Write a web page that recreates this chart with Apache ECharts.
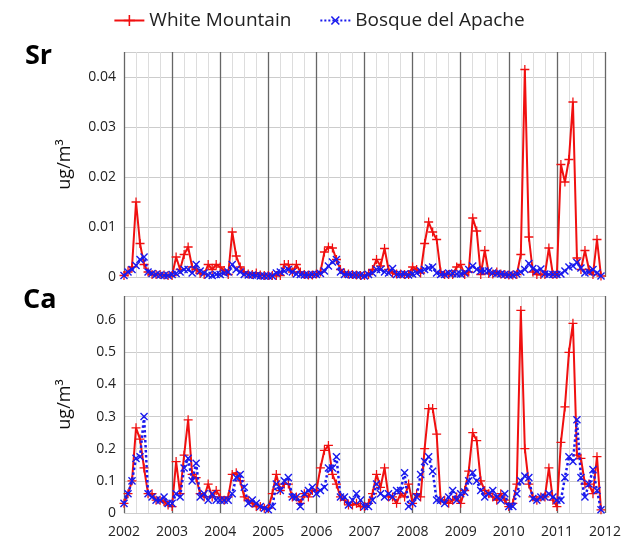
<!DOCTYPE html>
<html><head><meta charset="utf-8">
<script src="https://cdn.jsdelivr.net/npm/echarts@6/dist/echarts.min.js"></script>
<style>html,body{margin:0;background:#fff}#c{width:638px;height:555px}</style>
</head><body><div id="c"></div>
<script>
const startYear = 2002;
const srWhite = [0.0003,0.001,0.002,0.015,0.0067,0.0025,0.001,0.0005,0.0005,0.0005,0.0004,0.0003,
0.0003,0.004,0.0015,0.0045,0.006,0.002,0.0015,0.0007,0.0005,0.0025,0.0015,0.0025,
0.002,0.0013,0.0005,0.009,0.0042,0.002,0.001,0.0006,0.0005,0.0008,0.0004,0.0003,
0.0003,0.0003,0.0003,0.0003,0.0025,0.0025,0.001,0.0025,0.001,0.0005,0.0004,0.0004,
0.0006,0.001,0.005,0.006,0.0058,0.0035,0.0015,0.0008,0.0006,0.0005,0.0004,0.0003,
0.0003,0.0005,0.0015,0.0035,0.0022,0.0057,0.0015,0.0008,0.0006,0.0006,0.0005,0.0005,
0.002,0.0015,0.0008,0.0067,0.011,0.009,0.0075,0.001,0.0005,0.0005,0.0005,0.002,
0.0025,0.0005,0.001,0.0118,0.0092,0.0005,0.0053,0.0007,0.0006,0.001,0.0006,0.0005,
0.0004,0.0004,0.0005,0.0045,0.0415,0.008,0.001,0.0005,0.0005,0.0005,0.0058,0.0005,
0.0005,0.0225,0.019,0.0235,0.035,0.0038,0.0015,0.0053,0.0015,0.0005,0.0075,0.0002];
const srBosque = [0.0003,0.001,0.0015,0.0023,0.0035,0.004,0.001,0.0007,0.0005,0.0004,0.0003,0.0003,
0.0005,0.0007,0.001,0.0015,0.0015,0.0008,0.0025,0.0012,0.0008,0.0004,0.0003,0.0005,
0.0005,0.0008,0.001,0.0025,0.0015,0.001,0.0005,0.0004,0.0004,0.0003,0.0002,0.0002,
0.0002,0.0002,0.0008,0.001,0.0012,0.0015,0.001,0.0006,0.0005,0.0004,0.0004,0.0005,
0.0005,0.0007,0.0012,0.0022,0.003,0.0035,0.001,0.0005,0.0005,0.0004,0.0004,0.0004,
0.0002,0.0005,0.0008,0.0015,0.0015,0.001,0.0008,0.0017,0.0005,0.0005,0.0006,0.0004,
0.0006,0.0008,0.0012,0.0015,0.0018,0.002,0.0008,0.0005,0.0005,0.0008,0.0007,0.0006,
0.0006,0.0008,0.0015,0.0022,0.0015,0.0012,0.0012,0.0012,0.0008,0.0007,0.0006,0.0005,
0.0004,0.0004,0.0006,0.001,0.0015,0.0027,0.0017,0.0012,0.0016,0.0006,0.0005,0.0005,
0.0005,0.0006,0.0012,0.002,0.0022,0.0029,0.0018,0.0008,0.001,0.0015,0.0008,0.0002];
const caWhite = [0.03,0.06,0.1,0.265,0.23,0.14,0.06,0.06,0.04,0.04,0.035,0.025,
0.02,0.16,0.06,0.18,0.29,0.12,0.11,0.06,0.05,0.09,0.05,0.07,
0.05,0.04,0.05,0.12,0.125,0.1,0.05,0.04,0.03,0.02,0.02,0.015,
0.015,0.06,0.12,0.07,0.09,0.09,0.05,0.05,0.03,0.06,0.05,0.07,
0.07,0.14,0.195,0.21,0.12,0.09,0.05,0.04,0.025,0.025,0.03,0.02,
0.02,0.03,0.06,0.12,0.08,0.14,0.05,0.05,0.03,0.06,0.05,0.09,
0.03,0.06,0.05,0.2,0.325,0.325,0.245,0.04,0.04,0.03,0.04,0.05,
0.03,0.07,0.13,0.25,0.225,0.1,0.07,0.06,0.05,0.04,0.06,0.04,
0.02,0.03,0.09,0.63,0.2,0.09,0.05,0.04,0.05,0.05,0.14,0.04,
0.02,0.22,0.33,0.5,0.59,0.18,0.17,0.09,0.09,0.06,0.175,0.01];
const caBosque = [0.03,0.06,0.1,0.17,0.175,0.3,0.06,0.05,0.04,0.04,0.05,0.03,
0.03,0.06,0.05,0.14,0.17,0.1,0.155,0.05,0.06,0.04,0.06,0.04,
0.04,0.04,0.04,0.06,0.11,0.12,0.08,0.03,0.04,0.03,0.02,0.015,
0.01,0.02,0.09,0.07,0.1,0.11,0.05,0.05,0.02,0.06,0.07,0.08,
0.06,0.07,0.08,0.14,0.14,0.175,0.05,0.05,0.025,0.04,0.06,0.04,
0.02,0.02,0.04,0.09,0.06,0.05,0.06,0.05,0.07,0.07,0.125,0.02,
0.03,0.05,0.12,0.16,0.175,0.13,0.04,0.04,0.03,0.05,0.07,0.04,
0.06,0.065,0.1,0.125,0.1,0.07,0.05,0.06,0.07,0.05,0.04,0.06,
0.02,0.02,0.06,0.1,0.115,0.11,0.045,0.04,0.05,0.05,0.06,0.05,
0.04,0.04,0.11,0.175,0.16,0.29,0.11,0.05,0.09,0.135,0.07,0.01];

const pts = arr => arr.map((v,i)=>[startYear + i/12, v]);
const plus = 'path://M-1,-0.14H1V0.14H-1Z M-0.14,-1H0.14V1H-0.14Z';
const font = 'Open Sans, Noto Sans, sans-serif';
const xAxisBase = (idx, showLabel) => ({
  type:'value', gridIndex: idx, min:2002, max:2012, interval:1, minorTick:{show:false,splitNumber:4},
  axisLine:{show:false}, axisTick:{show:false},
  axisLabel:{show:showLabel, fontSize:14, color:'#222', fontFamily:font, margin:12, formatter:v=>String(Math.round(v))},
  splitLine:{show:true, lineStyle:{color:'#666', width:1.3}},
  minorSplitLine:{show:true, lineStyle:{color:'#ddd', width:1}}
});
const yAxisBase = (idx, max, itv, dec) => ({
  type:'value', gridIndex: idx, min:0, max:max, interval:itv,
  name:'ug/m³', nameLocation:'middle', nameGap:50, nameTextStyle:{fontSize:18, color:'#111', fontFamily:font},
  axisLine:{show:false}, axisTick:{show:false},
  axisLabel:{fontSize:14, color:'#222', fontFamily:font, showMaxLabel:false, formatter:v=>v===0?'0':v.toFixed(dec)},
  splitLine:{lineStyle:{color:'#ccc', width:1}}
});
const red = (i,d) => ({name:'White Mountain', type:'line', xAxisIndex:i, yAxisIndex:i, data:pts(d),
  symbol:plus, symbolSize:9, itemStyle:{color:'#f01010'}, lineStyle:{color:'#f01010', width:2}, z:2});
const blue = (i,d) => ({name:'Bosque del Apache', type:'line', xAxisIndex:i, yAxisIndex:i, data:pts(d),
  symbol:plus, symbolSize:10, symbolRotate:45, itemStyle:{color:'#1a1aee'}, lineStyle:{color:'#1a1aee', width:2.5, type:'dotted'}, z:3});

const chart = echarts.init(document.getElementById('c'));
chart.setOption({
  animation:false,
  legend:{top:6, left:'center', itemGap:28, itemWidth:30, textStyle:{fontSize:19, color:'#222', fontFamily:font},
    data:['White Mountain','Bosque del Apache']},
  title:[{text:'Sr', left:20, top:38, textStyle:{fontSize:27, fontWeight:'bold', color:'#000', fontFamily:font}},
         {text:'Ca', left:18, top:282, textStyle:{fontSize:27, fontWeight:'bold', color:'#000', fontFamily:font}}],
  grid:[{left:124, right:33, top:52, height:225},{left:124, right:33, top:296, height:217}],
  xAxis:[xAxisBase(0,false), xAxisBase(1,true)],
  yAxis:[yAxisBase(0,0.045,0.01,2), yAxisBase(1,0.675,0.1,1)],
  series:[red(0,srWhite), blue(0,srBosque), red(1,caWhite), blue(1,caBosque)]
});
</script></body></html>
